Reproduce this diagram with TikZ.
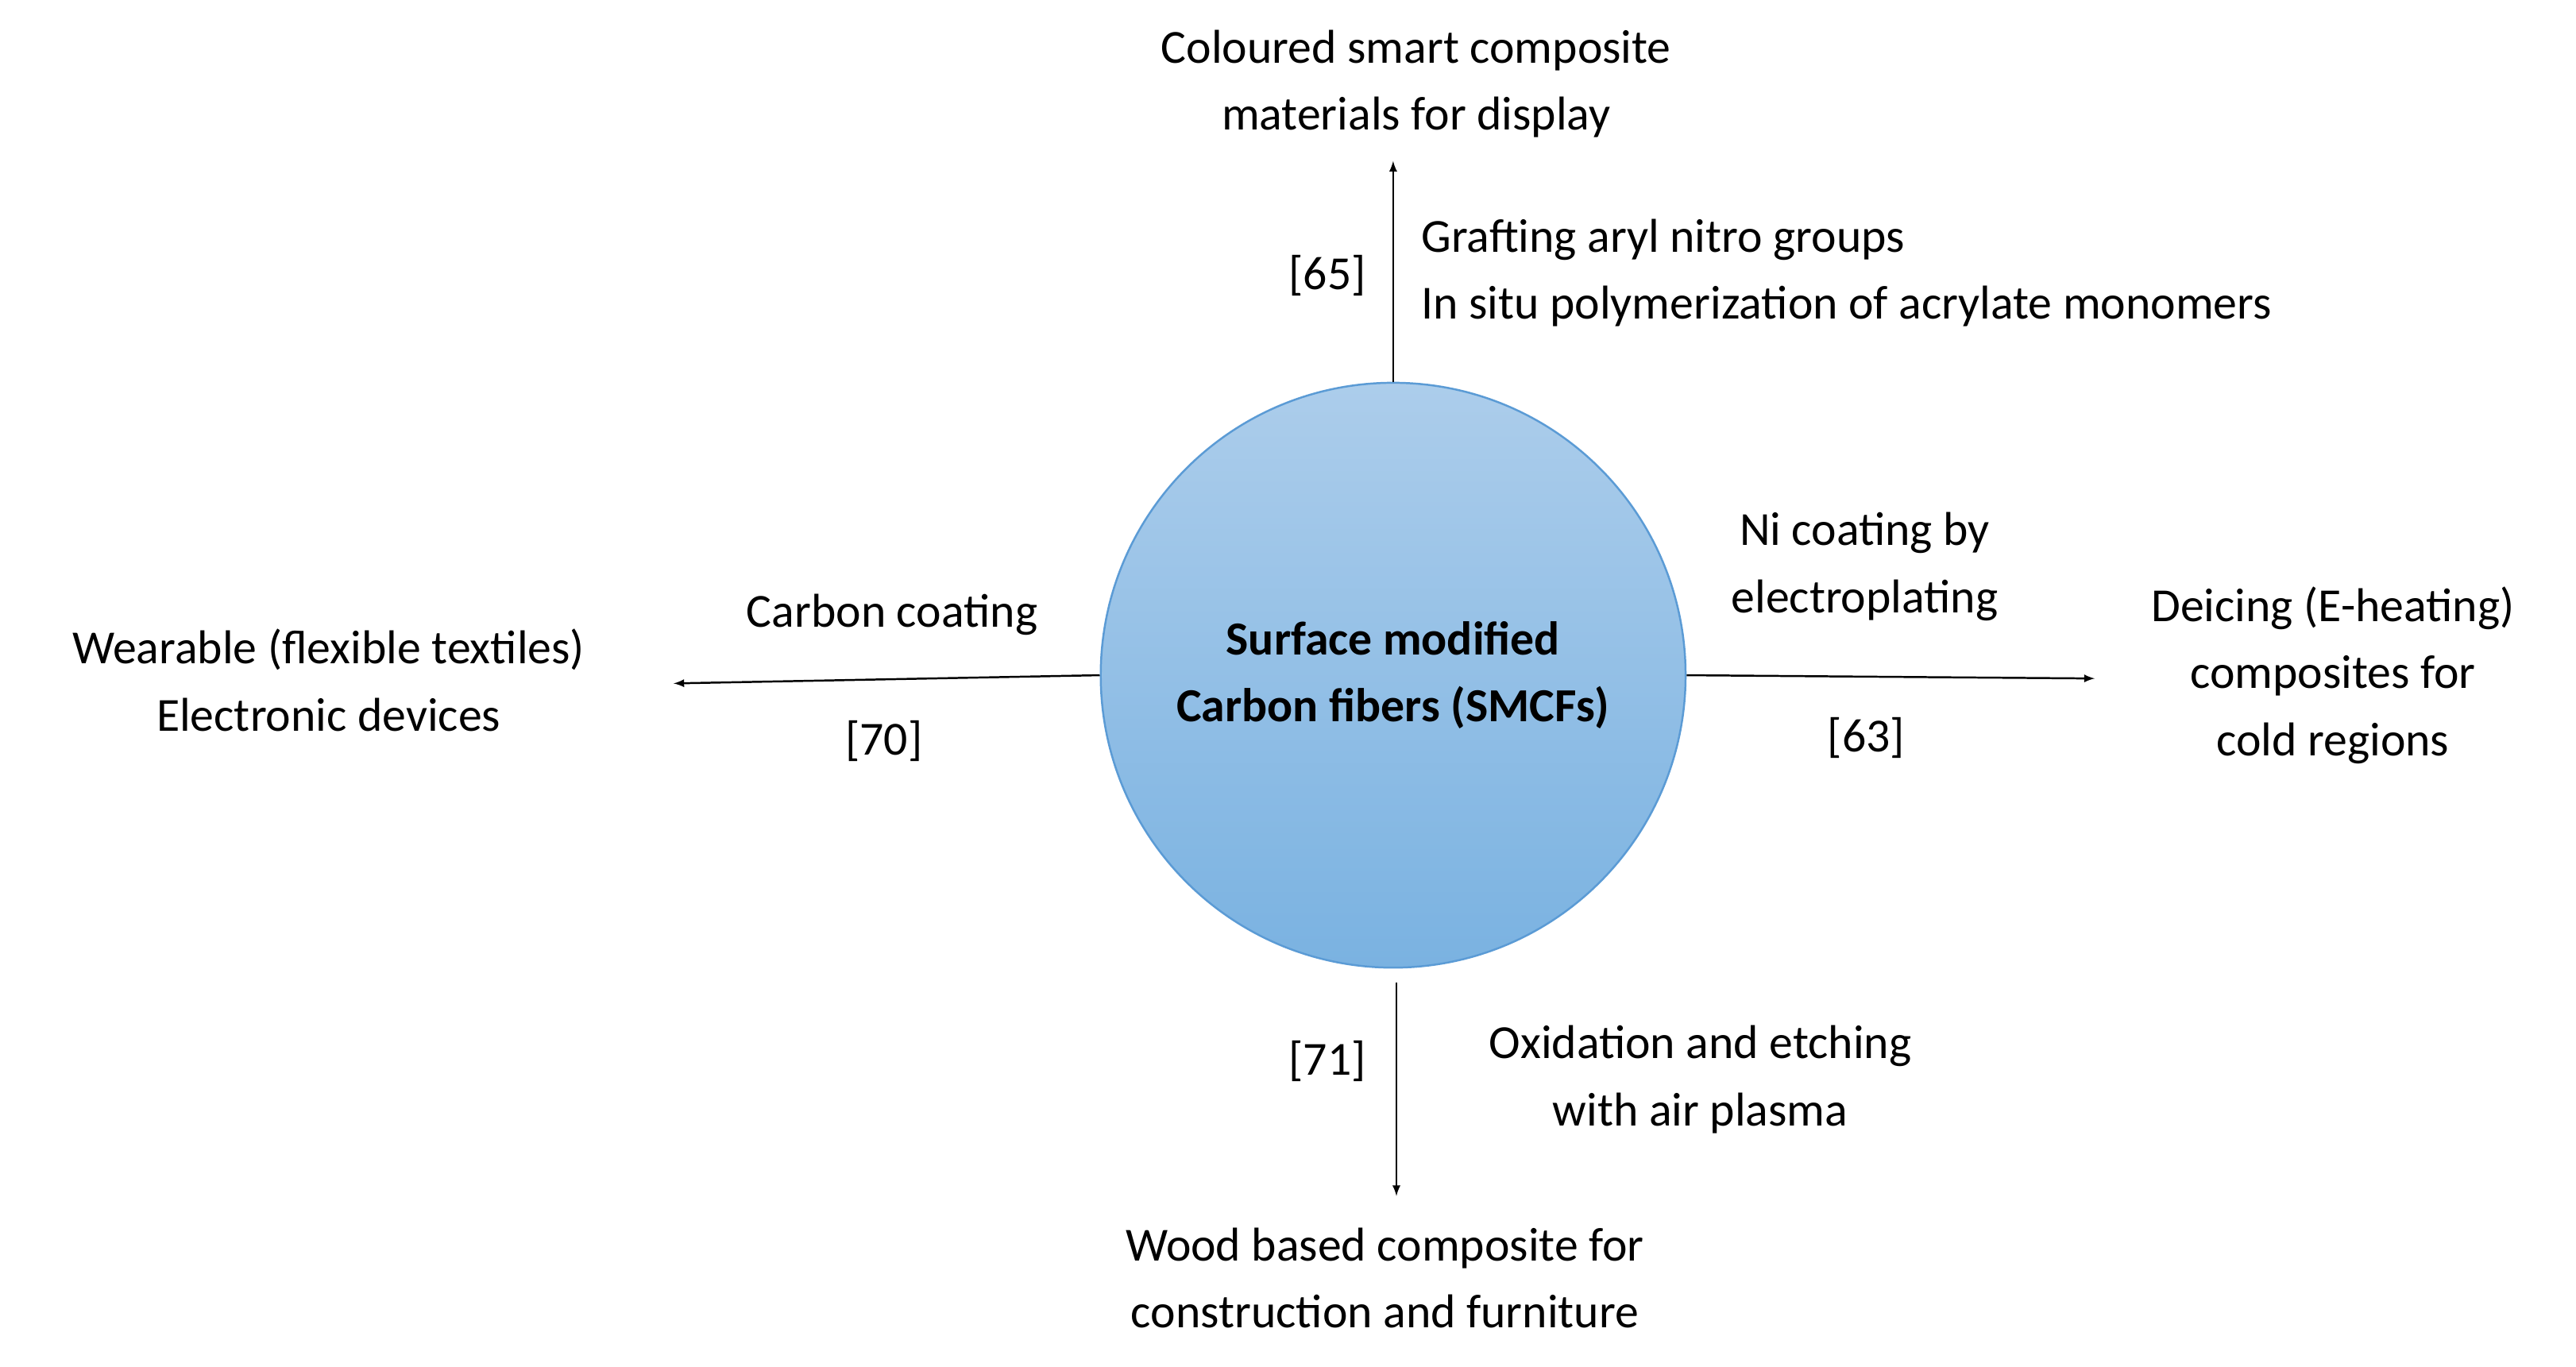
\documentclass[tikz,border=0pt]{standalone}
\usepackage{fontspec}
\setmainfont{Carlito}
\begin{document}
\begin{tikzpicture}[x=1bp,y=-1bp,
  txt/.style={font=\fontsize{29}{41}\selectfont, align=center, inner sep=0pt},
  arr/.style={-latex, line width=1.2bp}]
\useasboundingbox (0,0) rectangle (1568,832);
\node[circle, minimum size=356bp, inner sep=0pt, draw={rgb,255:red,91;green,155;blue,213}, line width=1.2bp,
  top color={rgb,255:red,172;green,205;blue,235}, bottom color={rgb,255:red,122;green,178;blue,225},
  font=\fontsize{29}{41}\selectfont\bfseries, align=center] (c) at (848,411) {Surface modified\\Carbon fibers (SMCFs)};
\coordinate (t) at (848,98);
\coordinate (l) at (410,416);
\coordinate (r) at (1275,413);
\coordinate (b) at (850,728);
\draw[arr] (c.north) -- (t);
\draw[arr] (c.west) -- (l);
\draw[arr] (c.east) -- (r);
\draw[arr] (850,598) -- (b);
\node[txt] (tt) at (862,51) {Coloured smart composite\\materials for display};
\node[txt] (r65) at (808,168) {[65]};
\node[txt, align=left, anchor=west] (tl) at (865,166) {Grafting aryl nitro groups\\In situ polymerization of acrylate monomers};
\node[txt] (lt) at (200,414) {Wearable (flexible textiles)\\Electronic devices};
\node[txt] (cc) at (543,374) {Carbon coating};
\node[txt] (r70) at (538,451) {[70]};
\node[txt] (ni) at (1135,345) {Ni coating by\\electroplating};
\node[txt] (r63) at (1136,449) {[63]};
\node[txt] (rt) at (1420,411) {Deicing (E-heating)\\composites for\\cold regions};
\node[txt] (r71) at (808,646) {[71]};
\node[txt] (ox) at (1035,657) {Oxidation and etching\\with air plasma};
\node[txt] (bt) at (843,778) {Wood based composite for\\construction and furniture};
\end{tikzpicture}
\end{document}
